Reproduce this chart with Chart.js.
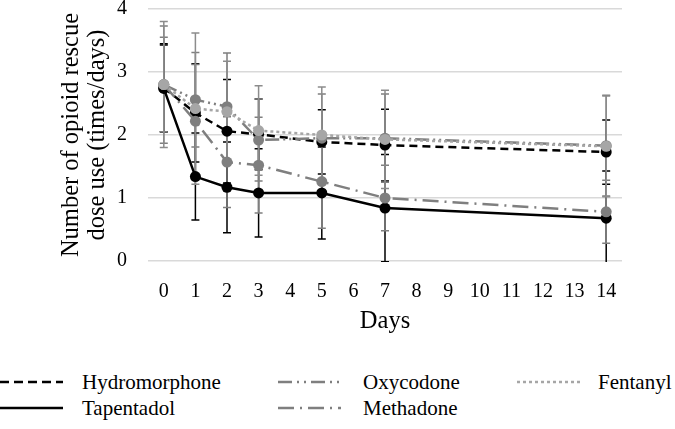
<!DOCTYPE html>
<html>
<head>
<meta charset="utf-8">
<script src="https://cdn.jsdelivr.net/npm/chart.js@4/dist/chart.umd.min.js"></script>
<style>
  body { margin: 0; background: #fff; font-family: "Liberation Serif", serif; }
  #wrap { position: relative; width: 675px; height: 429px; }
  #box { position: absolute; left: 0; top: 0; width: 675px; height: 350px; }
  .leg { position: absolute; font-size: 21px; color: #000; line-height: 24px; white-space: nowrap; }
  .leg svg { position: absolute; left: 0; top: 0; overflow: visible; }
  .leg span { position: absolute; top: -12px; }
</style>
</head>
<body>
<div id="wrap">
  <div id="box"><canvas id="chart"></canvas></div>
  <div id="legend"></div>
</div>
<script>
const days = ["0","1","2","3","4","5","6","7","8","9","10","11","12","13","14"];
const measuredDays = ["0","1","2","3","5","7","14"];

const hydromorphone = [2.75, 2.35, 2.06, 2.01, 1.89, 1.84, 1.73];
const hydromorphoneErr = [0.70, 0.78, 0.82, 0.56, 0.51, 0.57, 0.51];
const tapentadol = [2.74, 1.34, 1.17, 1.08, 1.08, 0.84, 0.68];
const tapentadolErr = [0.69, 0.69, 0.72, 0.70, 0.73, 0.85, 0.75];
const oxycodone = [2.80, 2.56, 2.45, 1.92, 1.95, 1.95, 1.83];
const oxycodoneErr = [0.75, 0.75, 0.85, 0.65, 0.70, 0.70, 0.80];
const methadone = [2.80, 2.22, 1.57, 1.52, 1.26, 1.00, 0.78];
const methadoneErr = [0.93, 0.90, 0.72, 0.76, 0.74, 0.52, 0.50];
const fentanyl = [2.80, 2.42, 2.37, 2.07, 2.00, 1.93, 1.82];
const fentanylErr = [1.00, 1.20, 0.80, 0.71, 0.76, 0.78, 0.80];

const yTicks = [0, 1, 2, 3, 4];

function pts(vals) {
  return vals.map((v, i) => ({ x: measuredDays[i], y: v }));
}

const series = [
  { name: "Hydromorphone", vals: hydromorphone, err: hydromorphoneErr, color: "#000000", dash: [8, 5], legDash: "9 5" },
  { name: "Tapentadol", vals: tapentadol, err: tapentadolErr, color: "#000000", dash: [], legDash: "" },
  { name: "Oxycodone", vals: oxycodone, err: oxycodoneErr, color: "#7f7f7f", dash: [14, 4, 2, 4, 2, 4], legDash: "14 5 2 5 2 5" },
  { name: "Methadone", vals: methadone, err: methadoneErr, color: "#7f7f7f", dash: [16, 6, 2, 6], legDash: "16 6 2 6" },
  { name: "Fentanyl", vals: fentanyl, err: fentanylErr, color: "#a6a6a6", dash: [3, 3], legDash: "3 3" }
];

// draws error bars from the err arrays through the chart scales
const errorBars = {
  id: "errorBars",
  beforeDatasetsDraw(chart) {
    const ctx = chart.ctx;
    const xs = chart.scales.x, ys = chart.scales.y;
    const area = chart.chartArea;
    ctx.save();
    ctx.beginPath();
    ctx.rect(area.left, area.top, area.right - area.left, area.bottom - area.top + 1);
    ctx.clip();
    series.forEach(s => {
      ctx.strokeStyle = s.color === "#a6a6a6" ? "#8c8c8c" : s.color;
      ctx.lineWidth = 1.5;
      s.vals.forEach((v, i) => {
        const x = xs.getPixelForValue(days.indexOf(measuredDays[i]));
        const y1 = ys.getPixelForValue(v + s.err[i]);
        const y2 = ys.getPixelForValue(v - s.err[i]);
        ctx.beginPath();
        ctx.moveTo(x, y1); ctx.lineTo(x, y2);
        ctx.moveTo(x - 4, y1); ctx.lineTo(x + 4, y1);
        ctx.moveTo(x - 4, y2); ctx.lineTo(x + 4, y2);
        ctx.stroke();
      });
    });
    ctx.restore();
  }
};

const chart = new Chart(document.getElementById("chart"), {
  type: "line",
  data: {
    labels: days,
    datasets: series.map(s => ({
      label: s.name,
      data: pts(s.vals),
      borderColor: s.color,
      backgroundColor: s.color,
      borderDash: s.dash,
      borderWidth: 2.5,
      pointRadius: 5.5,
      pointBorderWidth: 0,
      tension: 0
    })).reverse()
  },
  options: {
    responsive: true,
    maintainAspectRatio: false,
    animation: false,
    layout: { padding: { left: 0, right: 53, top: 9, bottom: 0 } },
    plugins: { legend: { display: false }, tooltip: { enabled: false } },
    scales: {
      x: {
        type: "category",
        offset: true,
        grid: { display: false },
        border: { display: false },
        ticks: { color: "#000", padding: 11, maxRotation: 0, autoSkip: false,
          font: { family: "Liberation Serif", size: 20 } },
        title: { display: true, text: "Days", color: "#000",
          font: { family: "Liberation Serif", size: 24.5 }, padding: { top: 0, bottom: 14 } },
        afterFit(scale) { scale.height = 89; }
      },
      y: {
        min: 0, max: 4,
        afterBuildTicks(scale) { scale.ticks = yTicks.map(v => ({ value: v })); },
        grid: { color: "#d9d9d9", lineWidth: 1.5, drawTicks: false },
        border: { display: false },
        ticks: { color: "#000", padding: 21,
          font: { family: "Liberation Serif", size: 20, lineHeight: 0.9 } },
        title: { display: true, text: ["Number of opioid rescue", "dose use (times/days)"], color: "#000",
          font: { family: "Liberation Serif", size: 24.5, lineHeight: 1.05 }, padding: { top: 59, bottom: 0 } },
        afterFit(scale) {
          scale.width = 148;
          scale.paddingTop = 0;
          scale.paddingBottom = 0;
        }
      }
    }
  },
  plugins: [errorBars]
});

// legend laid out like the original, two rows by three columns
const legPos = [
  { x: 0, y: 382, tx: 82 },
  { x: 0, y: 408, tx: 82 },
  { x: 278, y: 382, tx: 85 },
  { x: 278, y: 408, tx: 85 },
  { x: 517, y: 382, tx: 81 }
];
const legend = document.getElementById("legend");
series.forEach((s, i) => {
  const p = legPos[i];
  const d = document.createElement("div");
  d.className = "leg";
  d.style.left = p.x + "px";
  d.style.top = p.y + "px";
  d.innerHTML = `<svg width="64" height="1"><line x1="0" y1="0" x2="63" y2="0" stroke="${s.color}" stroke-width="2.5" stroke-dasharray="${s.legDash}"/></svg><span style="left:${p.tx}px">${s.name}</span>`;
  legend.appendChild(d);
});
</script>
</body>
</html>
